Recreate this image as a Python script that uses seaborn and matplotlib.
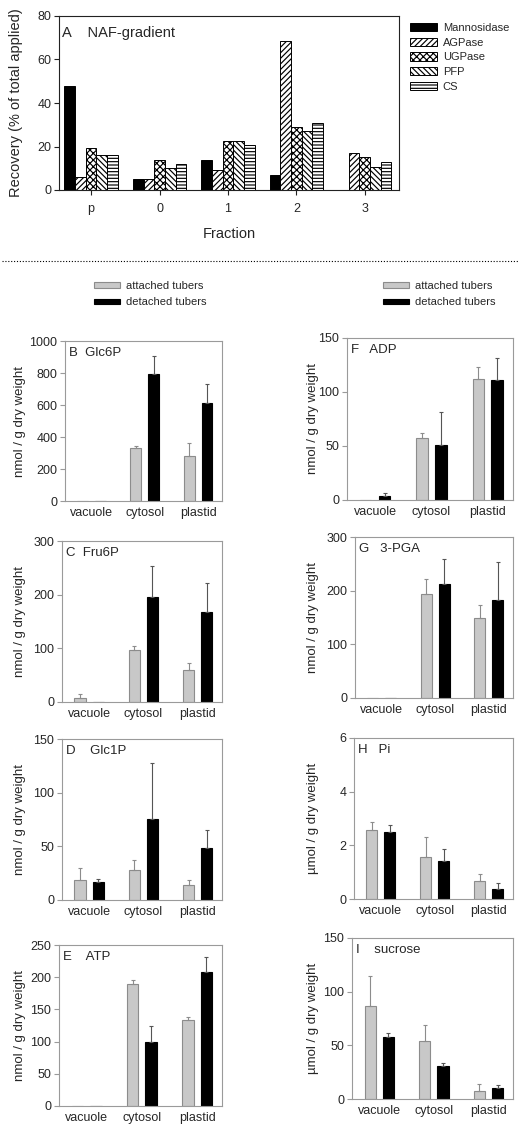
import numpy as np
import pandas as pd
import matplotlib
matplotlib.use("Agg")
import matplotlib.pyplot as plt
import seaborn as sns
from matplotlib.patches import Patch
from matplotlib.lines import Line2D
from matplotlib.container import BarContainer

# ---------------- data ----------------
fractions = ['p', '0', '1', '2', '3']
enzymes = ['Mannosidase', 'AGPase', 'UGPase', 'PFP', 'CS']
mannosidase = [47.8, 5.2, 13.6, 7.0, 0.0]
agpase = [6.1, 4.9, 9.0, 68.7, 17.0]
ugpase = [19.5, 13.6, 22.5, 29.1, 15.3]
pfp = [15.9, 10.1, 22.5, 27.1, 10.7]
cs = [15.9, 12.0, 20.7, 31.0, 12.9]

compartments = ['vacuole', 'cytosol', 'plastid']
groups = ['attached tubers', 'detached tubers']

glc6p_att = [0, 332, 284];   glc6p_att_err = [0, 14, 79]
glc6p_det = [0, 795, 614];   glc6p_det_err = [0, 114, 116]
fru6p_att = [7.5, 96, 60];   fru6p_att_err = [6.8, 8, 12]
fru6p_det = [0, 196, 168];   fru6p_det_err = [0, 57, 53]
glc1p_att = [18.4, 28.3, 13.6]; glc1p_att_err = [11.8, 8.8, 4.6]
glc1p_det = [16.4, 75.2, 48.0]; glc1p_det_err = [2.7, 52.2, 17.5]
atp_att = [0, 190, 133];     atp_att_err = [0, 6, 5]
atp_det = [0, 99, 208];      atp_det_err = [0, 26, 24]
adp_att = [0, 57.3, 112];    adp_att_err = [0, 4.4, 11]
adp_det = [3.8, 50.5, 111.3]; adp_det_err = [2.8, 30.8, 20]
pga_att = [0, 194, 148.5];   pga_att_err = [0, 27.5, 24.5]
pga_det = [0, 212, 182];     pga_det_err = [0, 46.5, 71]
pi_att = [2.56, 1.58, 0.67]; pi_att_err = [0.31, 0.73, 0.25]
pi_det = [2.51, 1.43, 0.38]; pi_det_err = [0.23, 0.42, 0.20]
suc_att = [87, 53.8, 7.6];   suc_att_err = [28, 15, 6.5]
suc_det = [57.6, 31.2, 9.8]; suc_det_err = [3.8, 2.1, 2.8]

# ---------------- style ----------------
sns.set_theme(style='white')
plt.rcParams['font.family'] = ['Liberation Sans', 'DejaVu Sans']
plt.rcParams['hatch.linewidth'] = 0.85

W, H = 527, 1134
fig = plt.figure(figsize=(W / 100, H / 100), dpi=100)
fig.patch.set_facecolor('white')


def rect(l, r, t, b):
    return [l / W, 1 - b / H, (r - l) / W, (b - t) / H]


# ---------------- panel A ----------------
axA = fig.add_axes(rect(59, 399, 16, 190))
dfA = pd.DataFrame({
    'Fraction': fractions * 5,
    'Enzyme': sum([[e] * 5 for e in enzymes], []),
    'Recovery': mannosidase + agpase + ugpase + pfp + cs,
})
colorsA = ['black', 'white', 'white', 'white', 'white']
hatchesA = [None, '//////', 'xxxxx', '\\\\\\\\\\\\', '-----']
sns.barplot(data=dfA, x='Fraction', y='Recovery', hue='Enzyme', order=fractions,
            hue_order=enzymes, palette=colorsA, saturation=1, width=0.78,
            edgecolor='black', linewidth=0.7, errorbar=None, legend=False, ax=axA)
barsA = [c for c in axA.containers if isinstance(c, BarContainer)]
for cont, h in zip(barsA, hatchesA):
    for bar in cont:
        if h:
            bar.set_hatch(h)
axA.set_xlim(-0.47, 4.5)
axA.set_ylim(0, 80)
axA.set_yticks([0, 20, 40, 60, 80])
axA.set_xlabel('Fraction', fontsize=10.5, labelpad=9)
axA.set_ylabel('Recovery (% of total applied)', fontsize=10.5)
axA.yaxis.set_label_coords(-0.105, 0.5)
for s in axA.spines.values():
    s.set_color('#222222'); s.set_linewidth(0.8)
axA.tick_params(axis='y', direction='out', length=3.6, width=0.8,
                color='#222222', labelsize=9, pad=2, left=True)
axA.tick_params(axis='x', direction='out', length=3.6, width=0.8,
                color='#222222', labelsize=9, pad=5.5, bottom=True)
axA.text(0.01, 0.90, 'A    NAF-gradient', transform=axA.transAxes, fontsize=10.5,
         ha='left', va='center')

legA_handles = [Patch(facecolor=c, edgecolor='black', hatch=h, linewidth=0.7)
                for c, h in zip(colorsA, hatchesA)]
fig.legend(legA_handles, enzymes, loc='upper left',
           bbox_to_anchor=(410 / W, 1 - 23 / H), frameon=False, fontsize=8,
           handlelength=2.4, handleheight=0.78, handletextpad=0.55,
           labelspacing=0.42, borderpad=0, borderaxespad=0)

# ---------------- separator ----------------
fig.add_artist(Line2D([2 / W, 518 / W], [1 - 261 / H] * 2, transform=fig.transFigure,
                      linestyle=(0, (1, 1.6)), color='black', linewidth=0.8))

# ---------------- lower panels ----------------
att_color = '#c8c8c8'
att_edge = '#8c8c8c'


def panel(box, att, att_err, det, det_err, yticks, ylabel, label):
    ax = fig.add_axes(rect(*box))
    df = pd.DataFrame({
        'Compartment': compartments * 2,
        'Group': [groups[0]] * 3 + [groups[1]] * 3,
        'Value': list(att) + list(det),
    })
    sns.barplot(data=df, x='Compartment', y='Value', hue='Group', order=compartments,
                hue_order=groups, palette=[att_color, 'black'], saturation=1,
                width=0.67, gap=0.39, errorbar=None, legend=False, linewidth=0.8,
                ax=ax)
    bar_conts = [c for c in ax.containers if isinstance(c, BarContainer)]
    errs = [att_err, det_err]
    ecols = ['#8c8c8c', '#555555']
    for k, cont in enumerate(bar_conts):
        for i, bar in enumerate(cont):
            bar.set_edgecolor(att_edge if k == 0 else 'black')
            e = errs[k][i]
            if e > 0:
                xc = bar.get_x() + bar.get_width() / 2
                ax.errorbar([xc], [bar.get_height()], yerr=[[0], [e]], fmt='none',
                            ecolor=ecols[k], elinewidth=0.8, capsize=1.6,
                            capthick=0.8)
    ax.set_xlim(-0.5, 2.45)
    ax.set_ylim(yticks[0], yticks[-1])
    ax.set_yticks(yticks)
    ax.set_xlabel('')
    ax.set_ylabel(ylabel, fontsize=9.5)
    for s in ax.spines.values():
        s.set_color('#9a9a9a'); s.set_linewidth(0.8)
    ax.tick_params(axis='y', direction='out', length=3.5, width=0.8, color='#9a9a9a',
                   labelsize=9, pad=2, left=True)
    ax.tick_params(axis='x', length=0, labelsize=9, pad=4)
    ax.text(0.025, 0.925, label, transform=ax.transAxes, fontsize=9.5,
            ha='left', va='center')
    return ax


nm = 'nmol / g dry weight'
um = 'µmol / g dry weight'
axB = panel((65, 222, 341, 501), glc6p_att, glc6p_att_err, glc6p_det, glc6p_det_err,
            [0, 200, 400, 600, 800, 1000], nm, 'B  Glc6P')
axC = panel((62, 222, 541, 702), fru6p_att, fru6p_att_err, fru6p_det, fru6p_det_err,
            [0, 100, 200, 300], nm, 'C  Fru6P')
axD = panel((62, 222, 739, 900), glc1p_att, glc1p_att_err, glc1p_det, glc1p_det_err,
            [0, 50, 100, 150], nm, 'D    Glc1P')
axE = panel((59, 222, 945, 1106), atp_att, atp_att_err, atp_det, atp_det_err,
            [0, 50, 100, 150, 200, 250], nm, 'E    ATP')
axF = panel((347, 513, 338, 500), adp_att, adp_att_err, adp_det, adp_det_err,
            [0, 50, 100, 150], nm, 'F   ADP')
axG = panel((355, 513, 537, 698), pga_att, pga_att_err, pga_det, pga_det_err,
            [0, 100, 200, 300], nm, 'G   3-PGA')
axH = panel((354, 513, 738, 899), pi_att, pi_att_err, pi_det, pi_det_err,
            [0, 2, 4, 6], um, 'H   Pi')
axI = panel((352, 513, 938, 1099), suc_att, suc_att_err, suc_det, suc_det_err,
            [0, 50, 100, 150], um, 'I    sucrose')

for ax, xpix in [(axB, 20), (axC, 20), (axD, 20), (axE, 20),
                 (axF, 313), (axG, 313), (axH, 313), (axI, 313)]:
    l = ax.get_position().x0 * W
    w = ax.get_position().width * W
    ax.yaxis.set_label_coords((xpix + 6 - l) / w, 0.5)

# legends for lower panels
leg_handles = [Patch(facecolor=att_color, edgecolor=att_edge, linewidth=0.8),
               Patch(facecolor='black', edgecolor='black', linewidth=0.8)]
for x0 in (94, 383):
    fig.legend(leg_handles, groups, loc='upper left',
               bbox_to_anchor=(x0 / W, 1 - 281 / H), frameon=False, fontsize=8,
               handlelength=2.3, handleheight=0.35, handletextpad=0.55,
               labelspacing=0.55, borderpad=0, borderaxespad=0)

fig.savefig('out.png', dpi=100, facecolor='white')
